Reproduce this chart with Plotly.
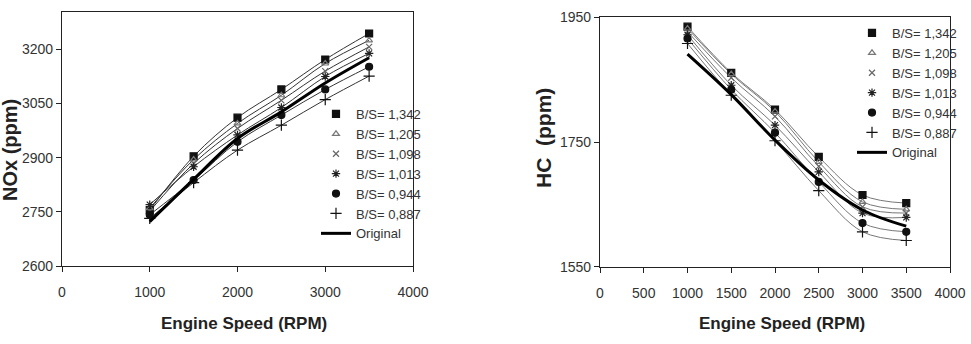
import plotly.graph_objects as go

rpm = [1000, 1500, 2000, 2500, 3000, 3500]
names = ["B/S= 1,342", "B/S= 1,205", "B/S= 1,098", "B/S= 1,013", "B/S= 0,944", "B/S= 0,887"]

nox_1342 = [2755, 2904, 3011, 3089, 3172, 3244]
nox_1205 = [2760, 2895, 2995, 3073, 3161, 3225]
nox_1098 = [2752, 2884, 2981, 3059, 3140, 3207]
nox_1013 = [2770, 2875, 2963, 3039, 3125, 3189]
nox_0944 = [2742, 2838, 2944, 3018, 3089, 3152]
nox_0887 = [2732, 2831, 2921, 2990, 3061, 3126]
nox_orig = [2723, 2840, 2953, 3027, 3107, 3177]

hc_1342 = [1935, 1861, 1802, 1726, 1665, 1652]
hc_1205 = [1932, 1859, 1799, 1718, 1654, 1642]
hc_1098 = [1927, 1853, 1791, 1711, 1646, 1636]
hc_1013 = [1922, 1841, 1777, 1702, 1636, 1629]
hc_0944 = [1916, 1834, 1765, 1686, 1620, 1606]
hc_0887 = [1908, 1825, 1752, 1672, 1606, 1592]
hc_orig = [1891, 1826, 1753, 1689, 1641, 1615]

nox_series = [nox_1342, nox_1205, nox_1098, nox_1013, nox_0944, nox_0887]
hc_series = [hc_1342, hc_1205, hc_1098, hc_1013, hc_0944, hc_0887]

symbols = ["square", "triangle-up-open", "x-thin-open", "asterisk-open", "circle", "cross-thin-open"]
mcolors = ["#111111", "#777777", "#666666", "#222222", "#111111", "#111111"]
msizes = [7, 6, 6, 7, 7, 8]

FONT = "Liberation Sans, Arial"

fig = go.Figure()

def add_panel(series, orig, xa, ya, legend, linecolor):
    for vals in series:
        fig.add_trace(go.Scatter(x=rpm, y=vals, mode="lines", xaxis=xa, yaxis=ya,
                                 line=dict(color=linecolor, width=1, shape="spline"),
                                 showlegend=False, hoverinfo="skip"))
    for vals, nm, sym, mc, ms in zip(series, names, symbols, mcolors, msizes):
        fig.add_trace(go.Scatter(x=rpm, y=vals, mode="markers", name=nm, xaxis=xa, yaxis=ya,
                                 legend=legend,
                                 marker=dict(symbol=sym, size=ms, color=mc,
                                             line=dict(color=mc, width=1.2))))
    fig.add_trace(go.Scatter(x=rpm, y=orig, mode="lines", name="Original", xaxis=xa, yaxis=ya,
                             legend=legend,
                             line=dict(color="#000000", width=3, shape="spline")))

add_panel(nox_series, nox_orig, "x", "y", "legend", "#333333")
add_panel(hc_series, hc_orig, "x2", "y2", "legend2", "#777777")

axis_common = dict(showline=True, linecolor="#222222", linewidth=1.2, mirror=True,
                   showgrid=False, zeroline=False, ticks="outside", ticklen=5, automargin=False,
                   tickcolor="#222222", tickfont=dict(family=FONT, size=14, color="#333333"))

fig.update_layout(
    width=971, height=344,
    margin=dict(l=0, r=0, t=0, b=0, autoexpand=False),
    paper_bgcolor="white", plot_bgcolor="white",
    xaxis=dict(domain=[62/971, 413/971], range=[0, 4000], dtick=1000, anchor="y",
               ticklabelstandoff=8, **axis_common),
    yaxis=dict(domain=[1-266/344, 1-11.5/344], range=[2600, 3305], tickvals=[2600, 2750, 2900, 3050, 3200],
               anchor="x", **axis_common),
    xaxis2=dict(domain=[600/971, 950/971], range=[0, 4000], dtick=500, anchor="y2",
                ticklabelstandoff=8, **axis_common),
    yaxis2=dict(domain=[1-266.7/344, 1-17.3/344], range=[1550, 1950], tickvals=[1550, 1750, 1950],
                anchor="x2", **axis_common),
    legend=dict(x=316/971, y=1-99/344, xanchor="left", yanchor="top", bgcolor="rgba(0,0,0,0)",
                font=dict(family=FONT, size=13, color="#333333"), itemwidth=30),
    legend2=dict(x=852/971, y=1-18/344, xanchor="left", yanchor="top", bgcolor="rgba(0,0,0,0)",
                 font=dict(family=FONT, size=13, color="#333333"), itemwidth=30),
    annotations=[
        dict(text="<b>Engine Speed (RPM)</b>", x=244/971, y=1-323/344, xref="paper", yref="paper",
             xanchor="center", yanchor="middle", showarrow=False,
             font=dict(family=FONT, size=17, color="#222222")),
        dict(text="<b>Engine Speed (RPM)</b>", x=782/971, y=1-323/344, xref="paper", yref="paper",
             xanchor="center", yanchor="middle", showarrow=False,
             font=dict(family=FONT, size=17, color="#222222")),
        dict(text="<b>NOx (ppm)</b>", x=10/971, y=1-150/344, xref="paper", yref="paper",
             xanchor="center", yanchor="middle", showarrow=False, textangle=-90,
             font=dict(family=FONT, size=20, color="#222222")),
        dict(text="<b>HC  (ppm)</b>", x=543/971, y=1-138/344, xref="paper", yref="paper",
             xanchor="center", yanchor="middle", showarrow=False, textangle=-90,
             font=dict(family=FONT, size=21, color="#222222")),
    ],
)

fig.write_html("out.html")
